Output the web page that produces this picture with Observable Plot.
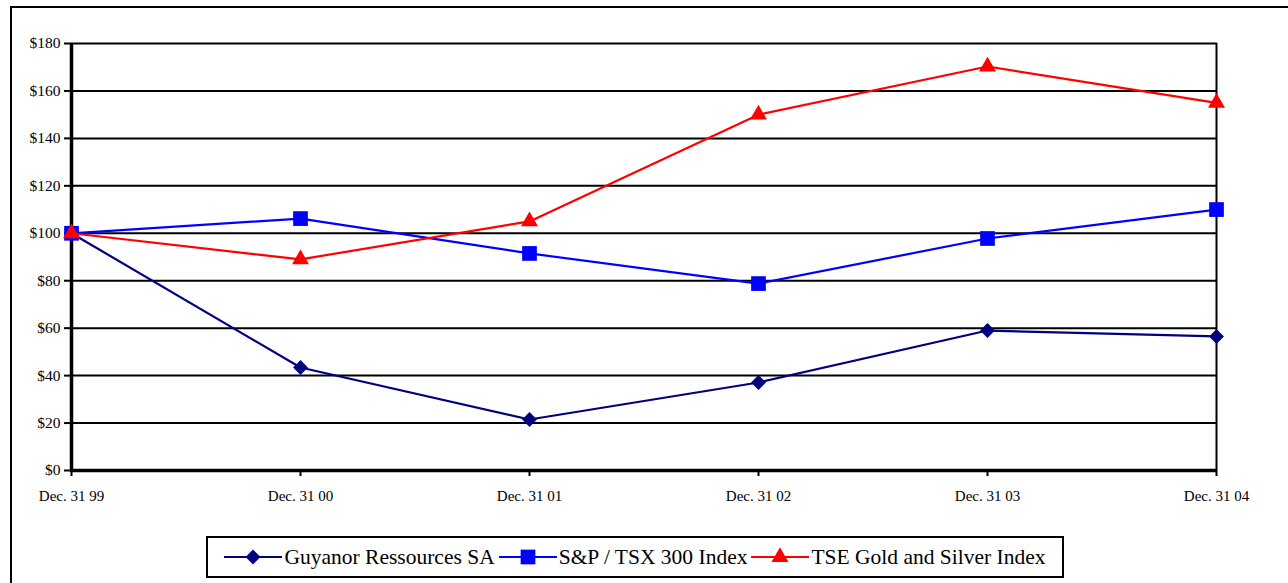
<!DOCTYPE html>
<html><head><meta charset="utf-8">
<script src="https://cdn.jsdelivr.net/npm/d3@7"></script>
<script src="https://cdn.jsdelivr.net/npm/@observablehq/plot@0.6"></script>
<style>
html,body{margin:0;padding:0;background:#fff;overflow:hidden;width:1288px;height:583px;}
#border{position:absolute;left:10px;top:6px;width:1300px;height:600px;border:2px solid #000;box-sizing:border-box;}
#chart{position:absolute;left:0;top:0;}
#legend{position:absolute;left:206px;top:536px;width:858px;height:42px;border:2px solid #000;box-sizing:border-box;display:flex;align-items:center;justify-content:center;font-family:"Liberation Serif","Times New Roman",serif;font-size:21.5px;background:#fff;white-space:nowrap}
.item{display:flex;align-items:center;margin:0 2px}
.item svg{margin-right:2px}
</style>
</head><body>
<div id="border"></div>
<div id="chart"></div>
<div id="legend"></div>
<script>
const categories = ["Dec. 31 99","Dec. 31 00","Dec. 31 01","Dec. 31 02","Dec. 31 03","Dec. 31 04"];
const guyanor = [100, 43.4, 21.5, 37.1, 59, 56.5];
const sptsx = [100, 106.2, 91.5, 78.8, 97.8, 110];
const tseGold = [100, 89, 105, 150, 170.3, 155];
const seriesNames = ["Guyanor Ressources SA", "S&P / TSX 300 Index", "TSE Gold and Silver Index"];
const yTicks = [0,20,40,60,80,100,120,140,160,180];

const colors = ["#000080", "#0000FF", "#FF0000"];
const symbols = ["diamond2", "square", "triangle"];
const radii = [6.7, 8.3, 6.3];
const values = [guyanor, sptsx, tseGold];
const FONT = "'Liberation Serif', 'Times New Roman', serif";

const rows = [];
seriesNames.forEach((s, i) => categories.forEach((c, j) => rows.push({series: s, cat: c, value: values[i][j], idx: i})));

const marks = [
  Plot.ruleY(yTicks.filter(d => d > 0), {y: d => d, stroke: "black", strokeWidth: 2}),
  Plot.ruleX([categories[categories.length-1]], {stroke: "black", strokeWidth: 2}),
  Plot.ruleX([categories[0]], {stroke: "black", strokeWidth: 3.5}),
  Plot.ruleY([0], {stroke: "black", strokeWidth: 3.5}),
  Plot.axisY({ticks: yTicks, tickFormat: d => "$" + d, tickSize: 6, tickPadding: 4, strokeWidth: 2, label: null, fontSize: 15.5, fontFamily: FONT}),
  Plot.axisX({tickSize: 6, tickPadding: 14, strokeWidth: 2, label: null, fontSize: 15, fontFamily: FONT})
];
seriesNames.forEach((s, i) => {
  const data = rows.filter(r => r.series === s);
  marks.push(Plot.line(data, {x: "cat", y: "value", stroke: colors[i], strokeWidth: 2.2}));
  marks.push(Plot.dot(data, {x: "cat", y: "value", fill: colors[i], stroke: "none", symbol: () => symbols[i], r: radii[i]}));
});

const chart = Plot.plot({
  width: 1288, height: 530,
  marginLeft: 70, marginRight: 71, marginTop: 43, marginBottom: 60,
  x: {type: "point", domain: categories, padding: 0, label: null},
  y: {domain: [0, 180], label: null},
  style: {fontFamily: FONT, fontSize: "15px", background: "transparent", color: "black"},
  marks
});
document.getElementById("chart").appendChild(chart);

const legend = d3.select("#legend");
const symMap = {diamond2: d3.symbolDiamond2, square: d3.symbolSquare, triangle: d3.symbolTriangle};
seriesNames.forEach((s, i) => {
  const item = legend.append("div").attr("class", "item");
  const svg = item.append("svg").attr("width", 58).attr("height", 20);
  svg.append("line").attr("x1", 0).attr("x2", 58).attr("y1", 10).attr("y2", 10).attr("stroke", colors[i]).attr("stroke-width", 2.2);
  svg.append("path").attr("transform", "translate(29,10)").attr("d", d3.symbol(symMap[symbols[i]], Math.PI * radii[i] * radii[i])()).attr("fill", colors[i]);
  item.append("span").text(s);
});
</script>
</body></html>
